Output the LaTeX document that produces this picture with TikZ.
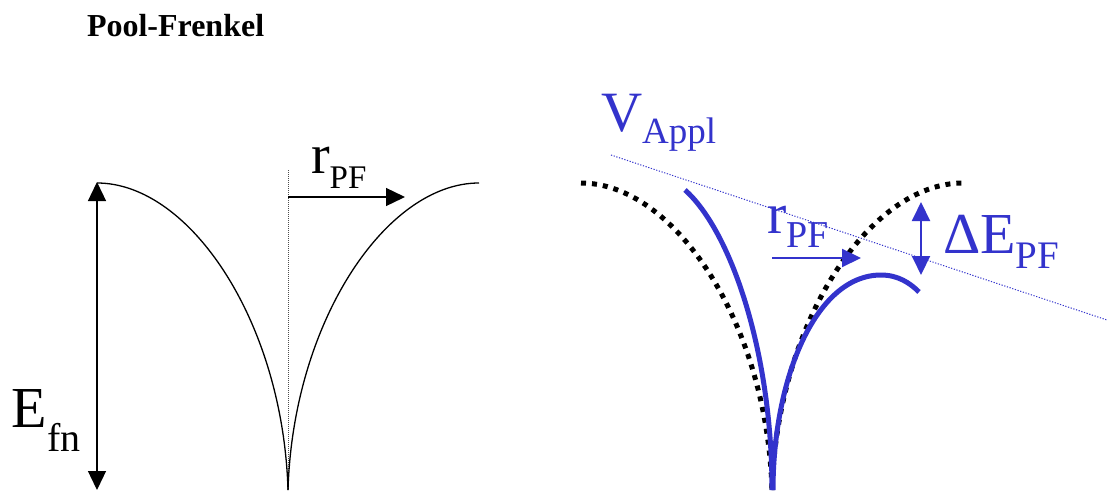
\documentclass[tikz,border=0pt]{standalone}
\usepackage{fontspec}
\setmainfont{Liberation Serif}
\usetikzlibrary{arrows.meta}
\definecolor{pfblue}{RGB}{51,51,204}
\begin{document}
\begin{tikzpicture}[x=1pt,y=-1pt,
  lbl/.style={anchor=base west,inner sep=0pt,outer sep=0pt},
  well/.style={line width=1.3pt},
  axisline/.style={line width=0.8pt,dash pattern=on 1pt off 1pt,black!70},
  blkarrow/.style={line width=1.3pt,-{Triangle[length=19pt,width=18pt]}},
  blkdarrow/.style={line width=1.3pt,{Triangle[length=19pt,width=18pt]}-{Triangle[length=19pt,width=18pt]}},
  dotwell/.style={line width=5pt,dash pattern=on 5pt off 6pt},
  bluewell/.style={line width=5pt,pfblue},
  vline/.style={line width=1pt,pfblue,dash pattern=on 1.2pt off 1.6pt},
  bluearrow/.style={line width=2pt,pfblue,-{Triangle[length=19pt,width=18pt]}},
  bluedarrow/.style={line width=2pt,pfblue,{Triangle[length=19pt,width=18pt]}-{Triangle[length=19pt,width=18pt]}}]
\useasboundingbox (0,0) rectangle (1107,490);

% title
\node[lbl,font=\bfseries\fontsize{32}{34}\selectfont] (title) at (87,36) {Pool-Frenkel};

% ---------- left: unperturbed well ----------
\draw[axisline] (288,170) -- (288,490);
\draw[well] (97,183) .. controls (190,183) and (283,322) .. (288,490);
\draw[well] (288,490) .. controls (293,322) and (386,183) .. (479,183);

\coordinate (efnTop) at (97,182);
\coordinate (efnBot) at (97,490);
\draw[blkdarrow] (efnTop) -- (efnBot);
\node[lbl,font=\fontsize{58}{60}\selectfont] (efn) at (12,427)
  {E\raisebox{-24pt}{\fontsize{40}{42}\selectfont fn}};

\coordinate (rA) at (288,197);
\coordinate (rB) at (405,197);
\draw[blkarrow] (rA) -- (rB);
\node[lbl,font=\fontsize{56}{58}\selectfont] (rpfL) at (311,173)
  {r\raisebox{-15pt}{\fontsize{33}{35}\selectfont PF}};

% ---------- right: well under applied field ----------
\draw[dotwell] (581,183) .. controls (674,183) and (767,322) .. (772,490);
\draw[dotwell] (772,490) .. controls (777,322) and (870,183) .. (963,183);

\coordinate (vA) at (611,155);
\coordinate (vB) at (1107,320);
\draw[vline] (vA) -- (vB);

\draw[bluewell] (685,190) .. controls (730,230) and (772,350) .. (772,490);
\draw[bluewell] (773,490) .. controls (773,380) and (815,275) .. (881,275)
  .. controls (898,275) and (910,283) .. (919,292);

\node[lbl,text=pfblue,font=\fontsize{57}{59}\selectfont] (vappl) at (601,131)
  {V\raisebox{-12pt}{\fontsize{37}{39}\selectfont Appl}};

\coordinate (rbA) at (772,258);
\coordinate (rbB) at (861,258);
\draw[bluearrow] (rbA) -- (rbB);
\node[lbl,text=pfblue,font=\fontsize{58}{60}\selectfont] (rpfR) at (767,233)
  {r\raisebox{-14pt}{\fontsize{38}{40}\selectfont PF}};

\coordinate (deTop) at (921,202);
\coordinate (deBot) at (921,275);
\draw[bluedarrow] (deTop) -- (deBot);
\node[lbl,text=pfblue,font=\fontsize{58}{60}\selectfont] (dE) at (943,253)
  {ΔE\raisebox{-15pt}{\fontsize{39}{41}\selectfont PF}};
\end{tikzpicture}
\end{document}
